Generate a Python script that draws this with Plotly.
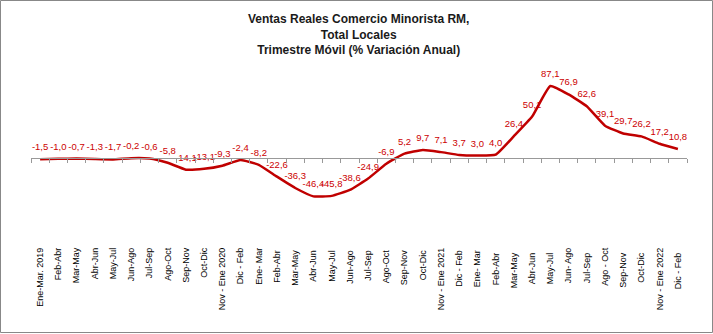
import plotly.graph_objects as go

categories = ["Ene-Mar. 2019", "Feb-Abr", "Mar-May", "Abr-Jun", "May-Jul", "Jun-Ago", "Jul-Sep",
              "Ago-Oct", "Sep-Nov", "Oct-Dic", "Nov - Ene 2020", "Dic - Feb", "Ene- Mar", "Feb-Abr ",
              "Mar-May ", "Abr-Jun ", "May-Jul ", "Jun-Ago ", "Jul-Sep ", "Ago-Oct ", "Sep-Nov ",
              "Oct-Dic ", "Nov - Ene 2021", "Dic - Feb ", "Ene- Mar ", "Feb-Abr  ", "Mar-May  ",
              "Abr-Jun  ", "May-Jul  ", "Jun- Ago", "Jul-Sep  ", "Ago - Oct", "Sep-Nov  ", "Oct-Dic  ",
              "Nov - Ene 2022", "Dic - Feb  "]
values = [-1.5, -1.0, -0.7, -1.3, -1.7, -0.2, -0.6, -5.8, -14.1, -13.1, -9.3, -2.4, -8.2, -22.6,
          -36.3, -46.4, -45.8, -38.6, -24.9, -6.9, 5.2, 9.7, 7.1, 3.7, 3.0, 4.0, 26.4, 50.1, 87.1,
          76.9, 62.6, 39.1, 29.7, 26.2, 17.2, 10.8]
labels = [f"{v:.1f}".replace(".", ",") for v in values]
title_lines = ["Ventas Reales Comercio Minorista RM,", "Total Locales", "Trimestre Móvil (% Variación Anual)"]

W, H = 713, 334
L, R, T, B = 31, 26, 70, 89
pw, ph = W - L - R, H - T - B
zero_y = 158
scale = (zero_y - 86) / 87.1
ymax = (zero_y - T) / scale
ymin = -(T + ph - zero_y) / scale

fig = go.Figure()
fig.add_trace(go.Scatter(
    x=categories, y=values, mode="lines+markers+text", text=labels, textposition="top center",
    textfont=dict(family="Liberation Sans", size=9.5, color="#CC0000"),
    marker=dict(size=9, opacity=0),
    line=dict(color="#C00000", width=2.5, shape="spline", smoothing=0.4),
    cliponaxis=False, showlegend=False, hoverinfo="skip",
))
fig.add_trace(go.Scatter(x=categories, y=[None] * len(categories), xaxis="x2",
                         showlegend=False, hoverinfo="skip"))

fig.update_layout(
    width=W, height=H, margin=dict(l=L, r=R, t=T, b=B),
    paper_bgcolor="white", plot_bgcolor="white",
    annotations=[dict(text="<b>" + "<br>".join(title_lines) + "</b>", xref="paper", yref="paper",
                      x=(W / 2 + 2 - L) / pw, y=1 + (T - 10) / ph, xanchor="center", yanchor="top",
                      showarrow=False, align="center",
                      font=dict(family="Liberation Sans", size=12, color="#1a1a1a"))],
    xaxis=dict(type="category", categoryorder="array", categoryarray=categories,
               showline=False, ticks="", showgrid=False, zeroline=False, tickangle=-90,
               tickfont=dict(family="Liberation Sans", size=9, color="black"),
               range=[-0.5, len(categories) - 0.5]),
    xaxis2=dict(type="category", categoryorder="array", categoryarray=categories,
                overlaying="x", anchor="free", position=(T + ph - zero_y) / ph, side="bottom",
                showline=True, linecolor="#999999", linewidth=1, ticks="outside", ticklen=4,
                tickcolor="#999999", tickson="boundaries", showticklabels=False, showgrid=False,
                range=[-0.5, len(categories) - 0.5]),
    yaxis=dict(range=[ymin, ymax], visible=False, showgrid=False, zeroline=False),
    shapes=[dict(type="rect", xref="paper", yref="paper",
                 x0=-(L - 0.5) / pw, x1=1 + (R - 0.5) / pw, y0=-(B - 1.5) / ph, y1=1 + (T - 0.5) / ph,
                 line=dict(color="#888888", width=1))],
)

fig.write_html("out.html")
